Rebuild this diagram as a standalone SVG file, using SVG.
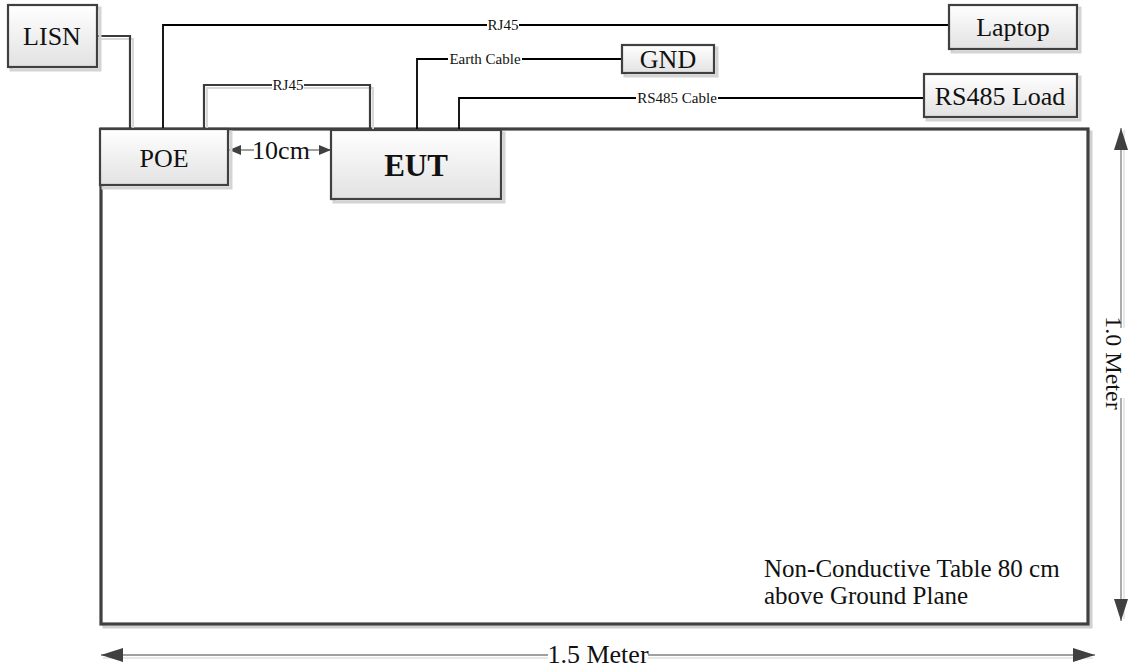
<svg xmlns="http://www.w3.org/2000/svg" width="1128" height="670" viewBox="0 0 1128 670">
<style>
  text { font-family: "Liberation Serif", "Times New Roman", serif; fill: #111; }
  .big { font-size: 26px; text-anchor: middle; }
  .bold { font-size: 31px; font-weight: bold; text-anchor: middle; }
  .small { font-size: 15px; text-anchor: middle; }
  .bg { fill: #fff; stroke: none; }
  .box { fill: url(#boxfill); stroke: #404040; stroke-width: 2.2; }
  .shadow { fill: none; stroke: #d4d4d4; stroke-width: 3; }
  .wireK { fill: none; stroke: #000; stroke-width: 1.8; }
  .wireG { fill: none; stroke: #3c3c3c; stroke-width: 2.2; }
  .wshadow { fill: none; stroke: #d8d8d8; stroke-width: 2; }
  .dim { fill: none; stroke: #808080; stroke-width: 1.3; }
  .dimshadow { fill: none; stroke: #e0e0e0; stroke-width: 1.5; }
</style>
<defs>
  <linearGradient id="boxfill" x1="0" y1="0" x2="0" y2="1">
    <stop offset="0" stop-color="#ffffff"/>
    <stop offset="1" stop-color="#e2e2e2"/>
  </linearGradient>
  <marker id="bigArrow" viewBox="0 0 22 14" refX="22" refY="7" markerWidth="22" markerHeight="14" markerUnits="userSpaceOnUse" orient="auto-start-reverse">
    <path d="M0,0 L22,7 L0,14 z" fill="#404040"/>
  </marker>
  <marker id="smallArrow" viewBox="0 0 12 10" refX="12" refY="5" markerWidth="12" markerHeight="10" markerUnits="userSpaceOnUse" orient="auto-start-reverse">
    <path d="M0,0 L12,5 L0,10 z" fill="#404040"/>
  </marker>
</defs>

<rect x="0" y="0" width="1128" height="670" fill="#fff"/>

<!-- Table -->
<g id="table">
  <rect x="104" y="132" width="987" height="495" fill="none" stroke="#d0d0d0" stroke-width="3"/>
  <rect x="101" y="129" width="987" height="495" fill="#fff" stroke="#404040" stroke-width="3.2"/>
  <text x="764" y="577" style="font-size:25px">Non-Conductive Table 80 cm</text>
  <text x="764" y="604" style="font-size:25px">above Ground Plane</text>
</g>

<!-- Connectors -->
<g id="connectors">
  <!-- shadows -->
  <path class="wshadow" d="M98,39 H133 V129"/>
  <path class="wshadow" d="M207,129 V88 H373 V129"/>
  <!-- LISN to POE -->
  <path class="wireG" d="M97,36 H130 V129"/>
  <!-- POE to Laptop RJ45 -->
  <path class="wireK" d="M163,129 V25 H949"/>
  <!-- POE to EUT RJ45 -->
  <path class="wireG" d="M204,129 V85 H370 V129"/>
  <!-- Earth cable -->
  <path class="wireK" d="M417,129 V59 H622"/>
  <!-- RS485 cable -->
  <path class="wireK" d="M459,129 V98 H924" stroke-width="2.2"/>
  <rect class="bg" x="487" y="18" width="32" height="14"/>
  <text class="small" x="503" y="30">RJ45</text>
  <rect class="bg" x="272" y="78" width="32" height="14"/>
  <text class="small" x="288" y="90">RJ45</text>
  <rect class="bg" x="448" y="52" width="74" height="14"/>
  <text class="small" x="485" y="64">Earth Cable</text>
  <rect class="bg" x="636" y="91" width="82" height="14"/>
  <text class="small" x="677" y="103">RS485 Cable</text>
  <!-- 10cm dimension -->
  <path class="dim" d="M229,150 H331" marker-start="url(#smallArrow)" marker-end="url(#smallArrow)"/>
  <rect class="bg" x="254" y="140" width="54" height="20"/>
  <text class="big" x="281" y="159">10cm</text>
  <!-- 1.5 Meter -->
  <path class="dimshadow" d="M103,658 H1093"/>
  <path class="dim" d="M101,655 H1095" marker-start="url(#bigArrow)" marker-end="url(#bigArrow)"/>
  <rect class="bg" x="548" y="645" width="100" height="22"/>
  <text class="big" x="598" y="663">1.5 Meter</text>
  <!-- 1.0 Meter -->
  <path class="dimshadow" d="M1124,130 V619"/>
  <path class="dim" d="M1121,128 V621" marker-start="url(#bigArrow)" marker-end="url(#bigArrow)"/>
  <rect class="bg" x="1104" y="328" width="24" height="70"/>
  <text class="big" transform="translate(1114,363) rotate(90)" x="0" y="8" style="font-size:24px">1.0 Meter</text>
</g>

<!-- Nodes -->
<g id="lisn">
  <rect class="shadow" x="11" y="8" width="89" height="62"/>
  <rect class="box" x="8" y="5" width="89" height="62"/>
  <text class="big" x="52" y="45">LISN</text>
</g>
<g id="poe">
  <rect class="shadow" x="103" y="132" width="128" height="56"/>
  <rect class="box" x="100" y="129" width="128" height="56"/>
  <text class="big" x="164" y="167">POE</text>
</g>
<g id="eut">
  <rect class="shadow" x="334" y="133" width="170" height="69"/>
  <rect class="box" x="331" y="130" width="170" height="69"/>
  <text class="bold" x="416" y="176">EUT</text>
</g>
<g id="gnd">
  <rect class="shadow" x="625" y="48" width="92" height="28"/>
  <rect class="box" x="622" y="45" width="92" height="28"/>
  <text class="big" x="668" y="68">GND</text>
</g>
<g id="laptop">
  <rect class="shadow" x="952" y="8" width="128" height="44"/>
  <rect class="box" x="949" y="5" width="128" height="44"/>
  <text class="big" x="1013" y="36">Laptop</text>
</g>
<g id="rs485load">
  <rect class="shadow" x="927" y="77" width="153" height="43"/>
  <rect class="box" x="924" y="74" width="153" height="43"/>
  <text class="big" x="1000" y="105">RS485 Load</text>
</g>
</svg>
